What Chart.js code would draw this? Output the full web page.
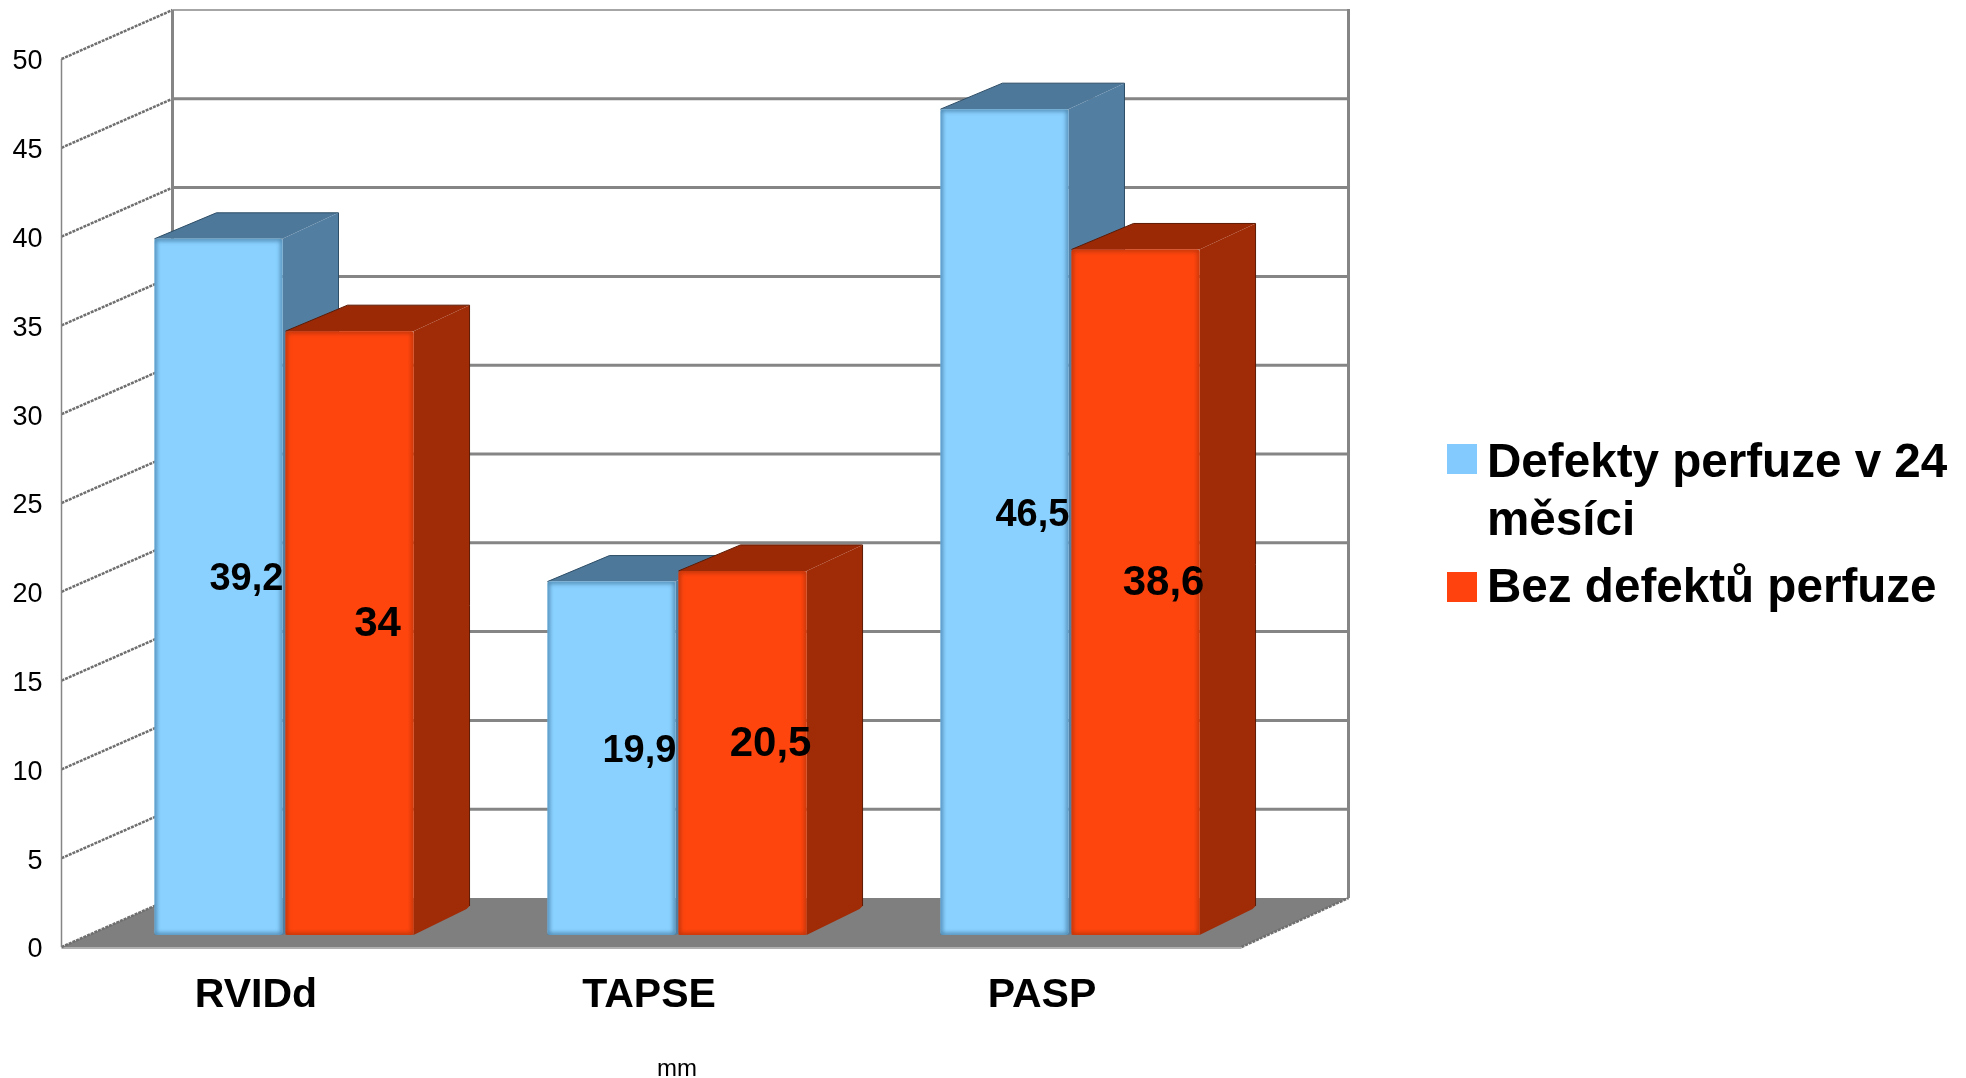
<!DOCTYPE html>
<html>
<head>
<meta charset="utf-8">
<title>mm</title>
<script src="https://cdn.jsdelivr.net/npm/chart.js@4/dist/chart.umd.min.js"></script>
<style>
    html, body { margin: 0; padding: 0; background: #ffffff; }
    canvas { display: block; }
</style>
</head>
<body>
<canvas id="perfusionChart" width="1966" height="1078"></canvas>
<script>
const categories = ["RVIDd", "TAPSE", "PASP"];
const defectValues = [39.2, 19.9, 46.5];
const noDefectValues = [34, 20.5, 38.6];
const defectLabel = ["Defekty perfuze v 24", "měsíci"];
const noDefectLabel = ["Bez defektů perfuze"];
const axisTitle = "mm";
const yMax = 50;
const yStep = 5;

const FONT = "'Liberation Sans', Arial, sans-serif";

// face, side and edge colours of each series
const seriesColors = [
    { face: "#8ad1ff", side: "#527ea2", top: "#4e7899", edge: "#4a83ab", outline: "#2d4d66" },
    { face: "#ff450e", side: "#a02b07", top: "#9b2906", edge: "#b8340a", outline: "#5c1a04" }
];

// Depth of a bar (the back edge is a little narrower), and where the
// front and back walls sit relative to the bars
const barDepth = { x: 56, y: -26, narrow: 6 };
const frontWall = { x: -26, right: -25, y: 12 };
const backWall = { x: 85, right: 82, y: -37 };

function decimalComma(value) {
    return String(value).replace(".", ",");
}

// Floor, back wall and side wall, all placed from the y scale
const wallsPlugin = {
    id: "walls",
    beforeDatasetsDraw(chart) {
        const { ctx, chartArea, scales } = chart;
        const y = scales.y;
        const base = y.getPixelForValue(0);
        const top = y.getPixelForValue(yMax);
        const fl = chartArea.left + frontWall.x;
        const fr = chartArea.right + frontWall.right;
        const bl = chartArea.left + backWall.x;
        const br = chartArea.right + backWall.right;

        ctx.save();

        // floor
        ctx.fillStyle = "#7f7f7f";
        ctx.beginPath();
        ctx.moveTo(fl, base + frontWall.y);
        ctx.lineTo(fr, base + frontWall.y);
        ctx.lineTo(br, base + backWall.y);
        ctx.lineTo(bl, base + backWall.y);
        ctx.closePath();
        ctx.fill();
        ctx.strokeStyle = "#b0b0b0";
        ctx.lineWidth = 2;
        ctx.beginPath();
        ctx.moveTo(fl, base + frontWall.y + 1);
        ctx.lineTo(fr, base + frontWall.y + 1);
        ctx.stroke();

        // back wall grid lines
        y.ticks.forEach(tick => {
            if (tick.value === 0) return;
            const py = y.getPixelForValue(tick.value) + backWall.y;
            ctx.strokeStyle = tick.value === yMax ? "#a6a6a6" : "#858585";
            ctx.lineWidth = tick.value === yMax ? 2 : 3;
            ctx.beginPath();
            ctx.moveTo(bl, py);
            ctx.lineTo(br, py);
            ctx.stroke();
        });

        // side wall lines running to the back wall
        ctx.strokeStyle = "#6f6f6f";
        ctx.lineWidth = 2.5;
        ctx.setLineDash([3, 1]);
        y.ticks.forEach(tick => {
            const py = y.getPixelForValue(tick.value);
            ctx.beginPath();
            ctx.moveTo(fl, py + frontWall.y);
            ctx.lineTo(bl, py + backWall.y);
            ctx.stroke();
        });
        ctx.beginPath();
        ctx.moveTo(fr, base + frontWall.y);
        ctx.lineTo(br, base + backWall.y);
        ctx.stroke();
        ctx.setLineDash([]);

        // verticals
        ctx.strokeStyle = "#858585";
        ctx.lineWidth = 3;
        ctx.beginPath();
        ctx.moveTo(bl, top + backWall.y);
        ctx.lineTo(bl, base + backWall.y);
        ctx.moveTo(br, top + backWall.y - 1);
        ctx.lineTo(br, base + backWall.y);
        ctx.stroke();
        ctx.lineWidth = 1.5;
        ctx.beginPath();
        ctx.moveTo(fl, top + frontWall.y);
        ctx.lineTo(fl, base + frontWall.y);
        ctx.stroke();

        ctx.restore();
    }
};

function drawBarSides(chart, index) {
    const { ctx } = chart;
    const colors = seriesColors[index];
    chart.getDatasetMeta(index).data.forEach(bar => {
        const x0 = bar.x - bar.width / 2;
        const x1 = bar.x + bar.width / 2;
        const yt = bar.y;
        const yb = bar.base;
        ctx.save();
        ctx.fillStyle = colors.top;
        ctx.beginPath();
        ctx.moveTo(x0, yt);
        ctx.lineTo(x0 + barDepth.x + barDepth.narrow, yt + barDepth.y);
        ctx.lineTo(x1 + barDepth.x, yt + barDepth.y);
        ctx.lineTo(x1, yt);
        ctx.closePath();
        ctx.fill();
        ctx.fillStyle = colors.side;
        ctx.beginPath();
        ctx.moveTo(x1, yt);
        ctx.lineTo(x1 + barDepth.x, yt + barDepth.y);
        ctx.lineTo(x1 + barDepth.x, yb + barDepth.y - 3);
        ctx.lineTo(x1 + barDepth.x - 3, yb + barDepth.y);
        ctx.lineTo(x1, yb);
        ctx.closePath();
        ctx.fill();
        ctx.strokeStyle = colors.outline;
        ctx.lineWidth = 1;
        ctx.beginPath();
        ctx.moveTo(x0, yt);
        ctx.lineTo(x0 + barDepth.x + barDepth.narrow, yt + barDepth.y);
        ctx.lineTo(x1 + barDepth.x, yt + barDepth.y);
        ctx.lineTo(x1 + barDepth.x, yb + barDepth.y - 3);
        ctx.stroke();
        ctx.restore();
    });
}

// soft dark rim around the front face of the bars
function drawBarRim(chart, index) {
    const { ctx } = chart;
    const colors = seriesColors[index];
    chart.getDatasetMeta(index).data.forEach(bar => {
        const x0 = bar.x - bar.width / 2;
        const w = bar.width;
        const h = bar.base - bar.y;
        ctx.save();
        ctx.beginPath();
        ctx.rect(x0, bar.y, w, h);
        ctx.clip();
        ctx.filter = "blur(2px)";
        ctx.strokeStyle = colors.edge;
        ctx.lineWidth = 4;
        ctx.strokeRect(x0, bar.y, w, h);
        ctx.restore();
    });
}

// Chart.js paints dataset 0 last, but the second series has to sit in front,
// so its draw is skipped and done right after the first one
const barDepthPlugin = {
    id: "barDepth",
    beforeDatasetDraw(chart, args) {
        if (args.index === 1) return false;
        drawBarSides(chart, 0);
    },
    afterDatasetDraw(chart, args) {
        if (args.index !== 0) return;
        drawBarRim(chart, 0);
        drawBarSides(chart, 1);
        chart.getDatasetMeta(1).controller.draw();
        drawBarRim(chart, 1);
    }
};

// Values written on the bars, moved to the middle of the bar's depth
const valueLabelPlugin = {
    id: "valueLabels",
    afterDatasetsDraw(chart) {
        const { ctx } = chart;
        ctx.save();
        ctx.fillStyle = "#000000";
        ctx.textAlign = "center";
        ctx.textBaseline = "middle";
        chart.data.datasets.forEach((dataset, i) => {
            ctx.font = "bold " + (i === 0 ? 38 : 42) + "px " + FONT;
            chart.getDatasetMeta(i).data.forEach((bar, j) => {
                const midY = (bar.y + bar.base) / 2;
                ctx.fillText(decimalComma(dataset.data[j]), bar.x + 28, midY - (i === 0 ? 7 : 9));
            });
        });
        ctx.restore();
    }
};

// Legend on the right, the first entry wraps on two lines
const sideLegendPlugin = {
    id: "sideLegend",
    afterDraw(chart) {
        const { ctx } = chart;
        const entries = [
            { lines: defectLabel, color: "#83caff", box: 444, text: 464 },
            { lines: noDefectLabel, color: "#ff420e", box: 572, text: 589 }
        ];
        ctx.save();
        ctx.textAlign = "left";
        ctx.textBaseline = "middle";
        ctx.font = "bold 47.6px " + FONT;
        entries.forEach(entry => {
            ctx.fillStyle = entry.color;
            ctx.fillRect(1447, entry.box, 30, 30);
            ctx.fillStyle = "#000000";
            entry.lines.forEach((line, n) => {
                ctx.fillText(line, 1487, entry.text + n * 58);
            });
        });
        ctx.restore();
    }
};

const ctx = document.getElementById("perfusionChart").getContext("2d");

new Chart(ctx, {
    type: "bar",
    data: {
        labels: categories,
        datasets: [
            {
                label: defectLabel.join(" "),
                data: defectValues,
                backgroundColor: seriesColors[0].face,
                borderRadius: 3,
                borderSkipped: false,
                categoryPercentage: 0.667,
                barPercentage: 0.977
            },
            {
                label: noDefectLabel.join(" "),
                data: noDefectValues,
                backgroundColor: seriesColors[1].face,
                borderRadius: 3,
                borderSkipped: false,
                categoryPercentage: 0.667,
                barPercentage: 0.977
            }
        ]
    },
    options: {
        responsive: false,
        animation: false,
        layout: { autoPadding: false, padding: { top: 47, right: 699.5, left: 0, bottom: 0 } },
        plugins: {
            legend: { display: false },
            tooltip: { enabled: false }
        },
        scales: {
            x: {
                afterFit(scale) { scale.height = 143; },
                grid: { display: false, drawTicks: false },
                border: { display: false },
                ticks: {
                    color: "#000000",
                    font: { family: FONT, size: 41, weight: "bold" },
                    padding: 36,
                    labelOffset: -28,
                    maxRotation: 0
                },
                title: {
                    display: true,
                    text: axisTitle,
                    color: "#000000",
                    font: { family: FONT, size: 24 },
                    padding: { top: 0, bottom: -6 }
                }
            },
            y: {
                min: 0,
                max: yMax,
                afterFit(scale) {
                    scale.width = 87.5;
                    scale.paddingTop = 0;
                    scale.paddingBottom = 0;
                },
                grid: { display: false, drawTicks: false },
                border: { display: false },
                ticks: {
                    stepSize: yStep,
                    color: "#000000",
                    font: { family: FONT, size: 27 },
                    padding: 45,
                    labelOffset: 15
                }
            }
        }
    },
    plugins: [wallsPlugin, barDepthPlugin, valueLabelPlugin, sideLegendPlugin]
});
</script>
</body>
</html>
